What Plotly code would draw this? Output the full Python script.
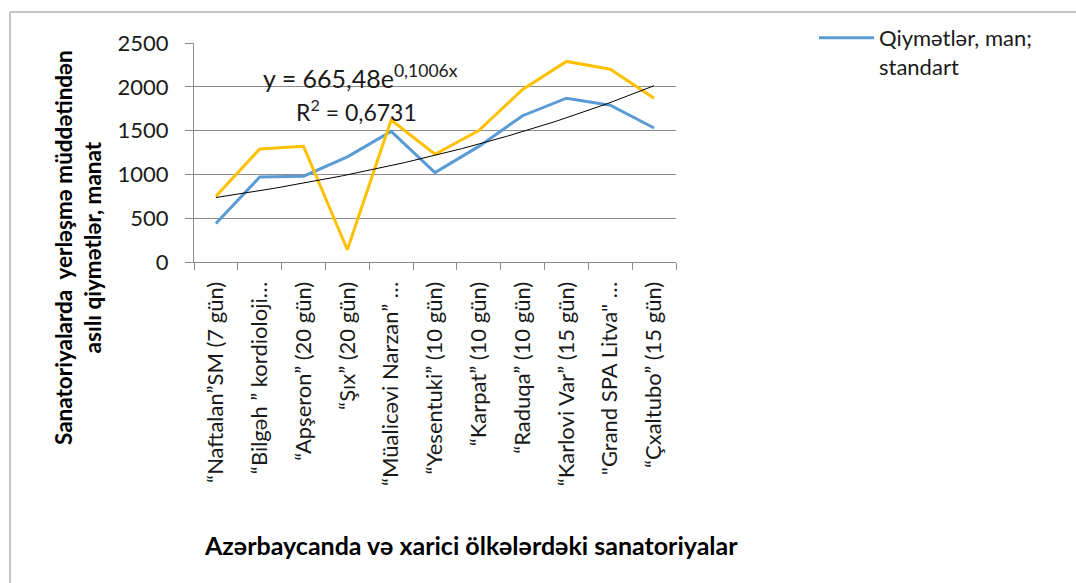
import numpy as np
import plotly.graph_objects as go

categories = [
    "“Naftalan”SM (7 gün)",
    "“Bilgəh ” kordioloji…",
    "“Apşeron” (20 gün)",
    "“Şıx” (20 gün)",
    "“Müalicəvi Narzan” …",
    "“Yesentuki” (10 gün)",
    "“Karpat” (10 gün)",
    "“Raduqa” (10 gün)",
    "“Karlovi Var” (15 gün)",
    "\"Grand SPA Litva\" …",
    "“Çxaltubo” (15 gün)",
]
standart = [440, 970, 980, 1200, 1490, 1020, 1320, 1670, 1870, 1790, 1530]
second_series = [750, 1290, 1320, 140, 1620, 1230, 1500, 1970, 2290, 2200, 1870]
# exponential trendline shown on the chart: y = 665,48 e^(0,1006x)
trend_a = 665.48
trend_b = 0.1006
y_ticks = [0, 500, 1000, 1500, 2000, 2500]

FONT = "Lato"
BLUE = "#5B9BD5"
YELLOW = "#FFC000"
GRID = "#8C8C8C"
TXT = "#1a1a1a"

xpos = list(range(1, len(categories) + 1))
xt = np.linspace(1, len(categories), 200)
yt = trend_a * np.exp(trend_b * xt)

fig = go.Figure()
fig.add_trace(go.Scatter(x=xpos, y=standart, mode="lines",
                         line=dict(color=BLUE, width=3),
                         name="Qiymətlər, man;<br>standart", showlegend=True))
fig.add_trace(go.Scatter(x=xpos, y=second_series, mode="lines",
                         line=dict(color=YELLOW, width=3),
                         name="", showlegend=False))
fig.add_trace(go.Scatter(x=xt, y=yt, mode="lines",
                         line=dict(color="black", width=1),
                         showlegend=False, hoverinfo="skip"))

W, H = 1076, 583
L, R, T, B = 194, 400, 43, 321
pw = W - L - R
ph = H - T - B


def px(xp):
    return (xp - L) / pw


def py(yp):
    return (H - B - yp) / ph


fig.update_layout(
    width=W, height=H,
    margin=dict(l=L, r=R, t=T, b=B, autoexpand=False),
    paper_bgcolor="white", plot_bgcolor="white",
    font=dict(family=FONT, size=22, color=TXT),
    showlegend=True,
    legend=dict(x=px(814), y=py(17), xanchor="left", yanchor="top",
                valign="top", bgcolor="rgba(0,0,0,0)", itemwidth=55,
                font=dict(family=FONT, size=22, color=TXT)),
    xaxis=dict(
        range=[0.5, len(categories) + 0.5], automargin=False,
        tickmode="array", tickvals=xpos, ticktext=categories,
        tickangle=-90, ticks="", showgrid=False, zeroline=False,
        showline=True, linecolor=GRID, linewidth=1,
        ticklabelstandoff=10,
        tickfont=dict(family=FONT, size=22, color=TXT),
        minor=dict(tickmode="array",
                   tickvals=[i + 0.5 for i in range(len(categories) + 1)],
                   ticks="outside", ticklen=7, tickcolor=GRID, tickwidth=1,
                   showgrid=False),
    ),
    yaxis=dict(
        range=[0, 2500], tickmode="array", tickvals=y_ticks, automargin=False,
        ticks="outside", ticklen=8, tickcolor=GRID,
        showgrid=True, gridcolor=GRID, gridwidth=1,
        zeroline=False, showline=True, linecolor=GRID, linewidth=1,
        ticklabelstandoff=12,
        tickfont=dict(family=FONT, size=22, color=TXT),
    ),
    shapes=[dict(type="rect", xref="paper", yref="paper",
                 x0=px(10), x1=px(1100), y0=py(620), y1=py(12),
                 line=dict(color="#8C8C8C", width=1), layer="below")],
    annotations=[
        dict(text="y = 665,48e<sup>0,1006x</sup>", xref="paper", yref="paper",
             x=px(360), y=py(76), xanchor="center", yanchor="middle",
             showarrow=False, font=dict(family=FONT, size=25, color=TXT)),
        dict(text="R<sup>2</sup> = 0,6731", xref="paper", yref="paper",
             x=px(356), y=py(110), xanchor="center", yanchor="middle",
             showarrow=False, font=dict(family=FONT, size=23, color=TXT)),
        dict(text="<b>Sanatoriyalarda  yerləşmə müddətindən</b><br><b>asılı qiymətlər, manat</b>",
             xref="paper", yref="paper", x=px(78), y=py(248),
             xanchor="center", yanchor="middle",
             textangle=-90, showarrow=False,
             font=dict(family=FONT, size=22.5, color="#000000")),
        dict(text="<b>Azərbaycanda və xarici ölkələrdəki sanatoriyalar</b>",
             xref="paper", yref="paper", x=px(471), y=py(545),
             xanchor="center", yanchor="middle",
             showarrow=False,
             font=dict(family=FONT, size=25, color="#000000")),
    ],
)

fig.write_html("out.html", config={"displayModeBar": False},
               post_script="document.body.style.margin='0';")
